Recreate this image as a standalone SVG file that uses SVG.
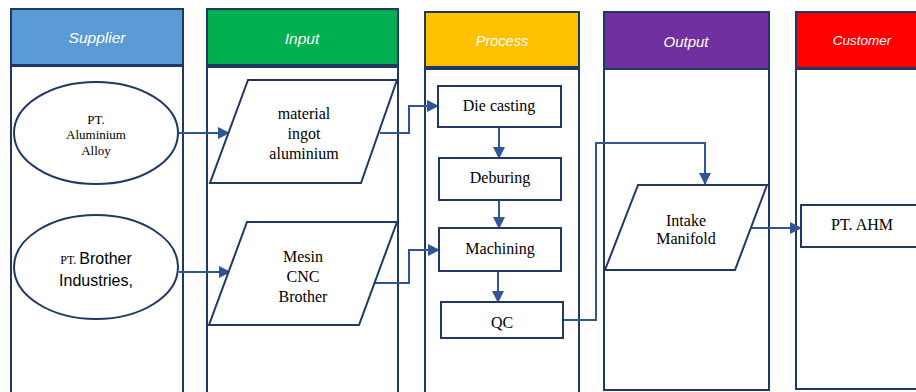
<svg xmlns="http://www.w3.org/2000/svg" width="916" height="392" viewBox="0 0 916 392">
<style>
.hdr{stroke:#1F3864;stroke-width:2}
.lane{fill:#fff;stroke:#1F3864;stroke-width:2}
.shape{fill:#fff;stroke:#1F3864;stroke-width:2}
.ht{font-family:"Liberation Sans",Arial,sans-serif;font-style:italic;fill:#fff;text-anchor:middle}
.t{font-family:"Liberation Serif","Times New Roman",serif;font-size:16px;fill:#000;text-anchor:middle}
.ts{font-family:"Liberation Serif","Times New Roman",serif;font-size:13px;fill:#000;text-anchor:middle}
.s{font-family:"Liberation Sans",Arial,sans-serif;font-size:16px;fill:#000}
.c{fill:none;stroke:#2F5597;stroke-width:2}
</style>
<defs>
<marker id="ah" markerUnits="userSpaceOnUse" markerWidth="12" markerHeight="12" viewBox="0 0 12 12" refX="11" refY="6" orient="auto">
<path d="M0,0 L12,6 L0,12 Z" fill="#2F5597"/>
</marker>
</defs>
<g id="lanes">
<g id="lane-supplier">
<rect class="lane" x="11" y="66" width="172" height="340"/>
<rect class="hdr" x="11" y="9" width="172" height="56" fill="#5B9BD5"/>
<text class="ht" x="97" y="43" font-size="15.5">Supplier</text>
</g>
<g id="lane-input">
<rect class="lane" x="207" y="67" width="191" height="340"/>
<rect class="hdr" x="207" y="9" width="191" height="56" fill="#00B050"/>
<text class="ht" x="302" y="44" font-size="15.5">Input</text>
</g>
<g id="lane-process">
<rect class="lane" x="425" y="69" width="154" height="340"/>
<rect class="hdr" x="425" y="12" width="154" height="55" fill="#FFC000"/>
<text class="ht" x="502" y="46" font-size="14.5">Process</text>
</g>
<g id="lane-output">
<rect class="lane" x="604" y="69" width="165" height="321"/>
<rect class="hdr" x="604" y="12" width="165" height="57" fill="#7030A0"/>
<text class="ht" x="686" y="47" font-size="15">Output</text>
</g>
<g id="lane-customer">
<rect class="lane" x="796" y="69" width="140" height="320"/>
<rect class="hdr" x="796" y="12" width="140" height="56" fill="#FF0000"/>
<text class="ht" x="862" y="45" font-size="13.5">Customer</text>
</g>
</g>
<g id="connectors">
<path class="c" d="M178,133 L229,133" marker-end="url(#ah)"/>
<path class="c" d="M179,272 L230,272" marker-end="url(#ah)"/>
<path class="c" d="M380,133 L409,133 L409,106 L438,106" marker-end="url(#ah)"/>
<path class="c" d="M375,283 L409,283 L409,250 L439,250" marker-end="url(#ah)"/>
<path class="c" d="M499,127 L499,158" marker-end="url(#ah)"/>
<path class="c" d="M499,200 L499,228" marker-end="url(#ah)"/>
<path class="c" d="M498,271 L498,302" marker-end="url(#ah)"/>
<path class="c" d="M563,320 L596,320 L596,143 L705,143 L705,184" marker-end="url(#ah)"/>
<path class="c" d="M750,228 L801,228" marker-end="url(#ah)"/>
</g>
<g id="n-alu">
<ellipse class="shape" cx="96" cy="133" rx="82" ry="51"/>
<text class="ts" x="96" y="124">PT.</text>
<text class="ts" x="96" y="139">Aluminium</text>
<text class="ts" x="96" y="155">Alloy</text>
</g>
<g id="n-brother">
<ellipse class="shape" cx="96" cy="267" rx="82" ry="52"/>
<text x="96" y="264" text-anchor="middle"><tspan font-family="Liberation Serif,serif" font-size="12">PT. </tspan><tspan class="s">Brother</tspan></text>
<text class="s" x="96" y="286" text-anchor="middle">Industries,</text>
</g>
<g id="n-ingot">
<polygon class="shape" points="248,80 397,80 361,183 210,183"/>
<text class="t" x="304" y="119">material</text>
<text class="t" x="304" y="139">ingot</text>
<text class="t" x="304" y="159">aluminium</text>
</g>
<g id="n-cnc">
<polygon class="shape" points="247,222 397,222 359,325 209,325"/>
<text class="t" x="303" y="262">Mesin</text>
<text class="t" x="303" y="282">CNC</text>
<text class="t" x="303" y="302">Brother</text>
</g>
<g id="n-die">
<rect class="shape" x="438" y="86" width="123" height="41"/>
<text class="t" x="499" y="111">Die casting</text>
</g>
<g id="n-deburing">
<rect class="shape" x="439" y="158" width="122" height="42"/>
<text class="t" x="500" y="183">Deburing</text>
</g>
<g id="n-machining">
<rect class="shape" x="439" y="228" width="122" height="43"/>
<text class="t" x="500" y="254">Machining</text>
</g>
<g id="n-qc">
<rect class="shape" x="441" y="302" width="122" height="36"/>
<text class="t" x="502" y="328">QC</text>
</g>
<g id="n-manifold">
<polygon class="shape" points="638,185 767,185 735,270 605,270"/>
<text class="t" x="686" y="226">Intake</text>
<text class="t" x="686" y="244">Manifold</text>
</g>
<g id="n-ahm">
<rect class="shape" x="801" y="205" width="130" height="42"/>
<text class="t" x="862" y="230">PT. AHM</text>
</g>
</svg>
